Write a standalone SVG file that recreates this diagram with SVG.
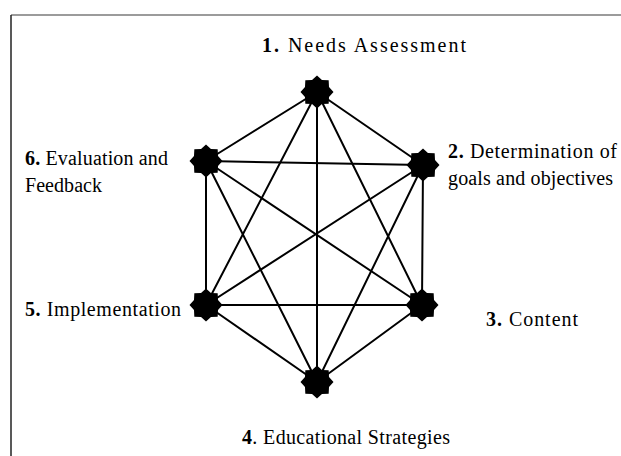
<svg xmlns="http://www.w3.org/2000/svg" xmlns:xlink="http://www.w3.org/1999/xlink" width="621" height="456" viewBox="0 0 621 456">
  <style>
    .edge { stroke: #000; stroke-width: 2; stroke-linecap: round; }
    .lbl { font-family: "Liberation Serif", "Times New Roman", serif; font-size: 20px; fill: #000; }
    .num { font-weight: bold; }
  </style>
  <defs>
    <!-- eight-point star used for every node (outer r 16.5, inner r 13) -->
    <polygon id="star" fill="#000" points="0,-16.5 4.97,-12.01 11.67,-11.67 12.01,-4.97 16.5,0 12.01,4.97 11.67,11.67 4.97,12.01 0,16.5 -4.97,12.01 -11.67,11.67 -12.01,4.97 -16.5,0 -12.01,-4.97 -11.67,-11.67 -4.97,-12.01"/>
  </defs>

  <rect width="621" height="456" fill="#fff"/>
  <!-- frame -->
  <line x1="11" y1="15" x2="621" y2="15" stroke="#7a7a7a" stroke-width="1.5"/>
  <line x1="11" y1="15" x2="11" y2="456" stroke="#222" stroke-width="1.5"/>

  <!-- connectors: every stage linked to every other stage -->
  <g id="connectors">
    <line class="edge" x1="317" y1="92" x2="423" y2="165"/>
    <line class="edge" x1="317" y1="92" x2="422" y2="305"/>
    <line class="edge" x1="317" y1="92" x2="317" y2="382"/>
    <line class="edge" x1="317" y1="92" x2="206" y2="305"/>
    <line class="edge" x1="317" y1="92" x2="206" y2="161"/>
    <line class="edge" x1="423" y1="165" x2="422" y2="305"/>
    <line class="edge" x1="423" y1="165" x2="317" y2="382"/>
    <line class="edge" x1="423" y1="165" x2="206" y2="305"/>
    <line class="edge" x1="423" y1="165" x2="206" y2="161"/>
    <line class="edge" x1="422" y1="305" x2="317" y2="382"/>
    <line class="edge" x1="422" y1="305" x2="206" y2="305"/>
    <line class="edge" x1="422" y1="305" x2="206" y2="161"/>
    <line class="edge" x1="317" y1="382" x2="206" y2="305"/>
    <line class="edge" x1="317" y1="382" x2="206" y2="161"/>
    <line class="edge" x1="206" y1="305" x2="206" y2="161"/>
  </g>

  <g id="n1-needs-assessment">
    <use xlink:href="#star" x="317" y="92"/>
    <text class="lbl" x="262" y="52" textLength="204"><tspan class="num">1.</tspan> Needs Assessment</text>
  </g>
  <g id="n2-goals">
    <use xlink:href="#star" x="423" y="165"/>
    <text class="lbl" x="448" y="158" textLength="169"><tspan class="num">2.</tspan> Determination of</text>
    <text class="lbl" x="448" y="185" textLength="165">goals and objectives</text>
  </g>
  <g id="n3-content">
    <use xlink:href="#star" x="422" y="305"/>
    <text class="lbl" x="486" y="326" textLength="92"><tspan class="num">3.</tspan> Content</text>
  </g>
  <g id="n4-strategies">
    <use xlink:href="#star" x="317" y="382"/>
    <text class="lbl" x="242" y="444" textLength="208"><tspan class="num">4</tspan>. Educational Strategies</text>
  </g>
  <g id="n5-implementation">
    <use xlink:href="#star" x="206" y="305"/>
    <text class="lbl" x="25" y="316" textLength="156"><tspan class="num">5.</tspan> Implementation</text>
  </g>
  <g id="n6-evaluation">
    <use xlink:href="#star" x="206" y="161"/>
    <text class="lbl" x="25" y="165" textLength="143"><tspan class="num">6.</tspan> Evaluation and</text>
    <text class="lbl" x="25" y="192" textLength="77">Feedback</text>
  </g>
</svg>
